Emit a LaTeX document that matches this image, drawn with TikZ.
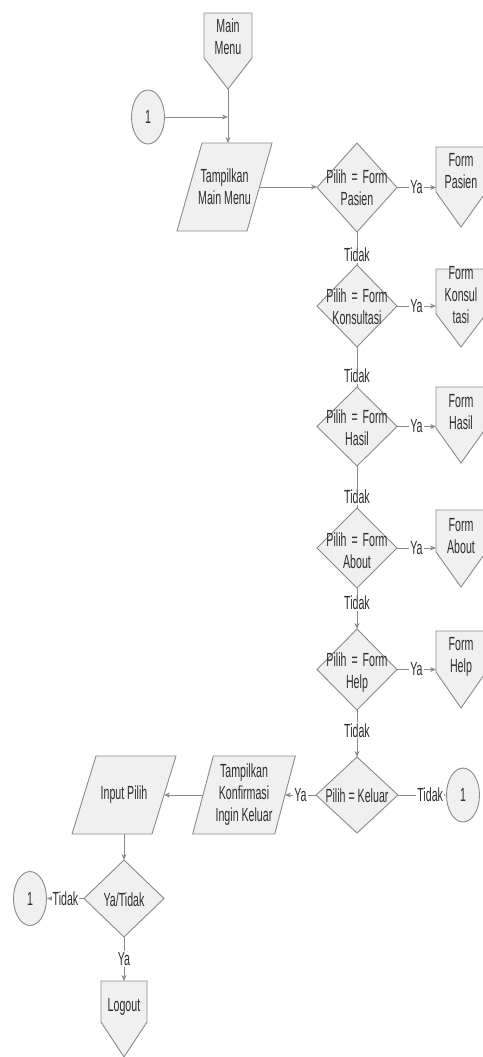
\documentclass[tikz,border=0pt]{standalone}
\usepackage{fontspec}
\setmainfont[FakeStretch=0.56]{Liberation Sans}
\usetikzlibrary{arrows.meta,shapes.geometric}
\definecolor{shapefill}{HTML}{F0F0F0}
\definecolor{shapeline}{HTML}{8A8A8A}
\definecolor{txtcol}{HTML}{2E2E2E}
% off-page connector: name, cx, half width, top, side bottom, tip, text y, text
\newcommand\offpg[8]{%
  \draw[shp] ({#2-#3},#4) -- ({#2+#3},#4) -- ({#2+#3},#5) -- (#2,#6) -- ({#2-#3},#5) -- cycle;
  \node[box,minimum width={2pt*#3},minimum height={1pt*(#6-#4)}] (#1) at (#2,{(#4+#6)/2}) {};
  \node[txt] (#1-t) at (#2,#7) {#8};
}
% decision: name, cx, cy, half width, half height, text, text offset
\newcommand\decis[7]{%
  \draw[shp] (#2,{#3-#5}) -- ({#2+#4},#3) -- (#2,{#3+#5}) -- ({#2-#4},#3) -- cycle;
  \node[box,minimum width={2pt*#4},minimum height={2pt*#5}] (#1) at (#2,#3) {};
  \node[txt] (#1-t) at (#2,{#3+#7}) {#6};
}
% parallelogram: name, cx, cy, half width (mid), half height, skew, text
\newcommand\parall[7]{%
  \draw[shp] ({#2-#4+#6},{#3-#5}) -- ({#2+#4+#6},{#3-#5}) -- ({#2+#4-#6},{#3+#5}) -- ({#2-#4-#6},{#3+#5}) -- cycle;
  \node[box,minimum width={2pt*#4},minimum height={2pt*#5}] (#1) at (#2,#3) {};
  \node[txt] (#1-t) at (#2,#3) {#7};
}
\newcommand\pf{Pilih\hspace{5pt}=\hspace{5pt}Form}
\begin{document}
\begin{tikzpicture}[x=1pt,y=-1pt,
  shp/.style={fill=shapefill,draw=shapeline,line width=0.9pt,line join=miter},
  txt/.style={text=txtcol,font=\fontsize{19}{22}\selectfont,align=center,inner sep=0pt},
  box/.style={inner sep=0pt,outer sep=0pt,draw=none},
  conn/.style={draw=shapeline,line width=0.9pt},
  arr/.style={conn,-{Stealth[length=6pt,width=5pt]}},
  lbl/.style={txt,fill=white,inner sep=1pt},
  conncirc/.style={shp,ellipse,minimum width=33pt,minimum height=54pt,txt}
]
\useasboundingbox (0,0) rectangle (482,1057);

% shapes
\offpg{mm}{228}{24}{13}{58}{89}{37}{Main\\Menu}
\node[conncirc] (c1) at (148,117) {1};
\parall{t1}{224.5}{187}{35}{44}{12.5}{Tampilkan\\Main Menu}

\decis{d1}{357}{187.5}{40}{44.5}{\pf\\Pasien}{0}
\decis{d2}{357}{306}{40}{41}{\pf\\Konsultasi}{1}
\decis{d3}{357}{426.5}{40}{39.5}{\pf\\Hasil}{1}
\decis{d4}{357}{548}{40}{40}{\pf\\About}{3}
\decis{d5}{357}{669.5}{40}{40.5}{\pf\\Help}{3}
\decis{d6}{357}{795}{41}{38}{Pilih = Keluar}{1}

\offpg{f1}{461}{25}{147}{192}{227}{171}{Form\\Pasien}
\offpg{f2}{461}{25}{269}{314}{347}{295}{Form\\Konsul\\tasi}
\offpg{f3}{461}{25}{387}{428}{463}{412}{Form\\Hasil}
\offpg{f4}{461}{25}{510}{552}{587}{536}{Form\\About}
\offpg{f5}{461}{25}{631}{672}{708}{657}{Form\\Help}

\node[conncirc] (c2) at (463,795) {1};
\parall{t2}{244}{795}{41}{39}{10.3}{Tampilkan\\Konfirmasi\\Ingin Keluar}
\parall{t3}{124}{795}{40}{39}{12}{Input Pilih}
\decis{d7}{124}{898.5}{40}{38.5}{Ya/Tidak}{1}
\node[conncirc] (c3) at (30,898.5) {1};
\offpg{lo}{124}{23}{981}{1022}{1057}{1007}{Logout}

% connectors
\coordinate (j) at (mm.south |- c1.east);
\draw[conn] (mm.south) -- (j);
\draw[arr] (j) -- (j |- t1.north);
\draw[arr] (c1.east) -- (j);
\draw[arr] (t1.east) -- (t1.east -| d1.west);

\draw[arr] (d1.east) -- node[lbl] (y1) {Ya} (d1.east -| f1.west);
\draw[arr] (d2.east) -- node[lbl] (y2) {Ya} (d2.east -| f2.west);
\draw[arr] (d3.east) -- node[lbl] (y3) {Ya} (d3.east -| f3.west);
\draw[arr] (d4.east) -- node[lbl] (y4) {Ya} (d4.east -| f4.west);
\draw[arr] (d5.east) -- node[lbl] (y5) {Ya} (d5.east -| f5.west);

\draw[conn] (d1.south) -- node[lbl,pos=0.7] (n1) {Tidak} (d2.north);
\draw[conn] (d2.south) -- node[lbl,pos=0.72] (n2) {Tidak} (d3.north);
\draw[conn] (d3.south) -- node[lbl,pos=0.74] (n3) {Tidak} (d4.north);
\draw[arr] (d4.south) -- node[lbl,pos=0.37] (n4) {Tidak} (d5.north);
\draw[arr] (d5.south) -- node[lbl,pos=0.43] (n5) {Tidak} (d6.north);

\draw[arr] (d6.east) -- node[lbl,pos=0.67] (n6) {Tidak} (c2.west);
\draw[arr] (d6.west) -- node[lbl] (y6) {Ya} (t2.east);
\draw[arr] (t2.west) -- (t3.east);
\draw[arr] (t3.south) -- (d7.north);
\draw[arr] (d7.west) -- node[lbl] (n7) {Tidak} (c3.east);
\draw[arr] (d7.south) -- node[lbl] (y7) {Ya} (lo.north);
\end{tikzpicture}
\end{document}
